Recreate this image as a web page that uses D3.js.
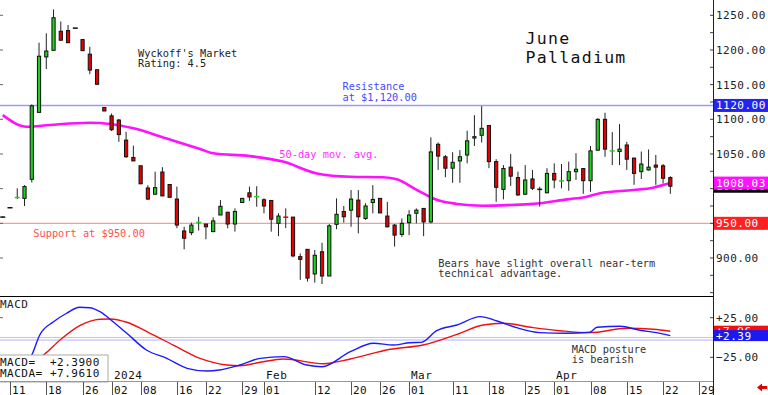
<!DOCTYPE html>
<html><head><meta charset="utf-8">
<script src="https://cdn.jsdelivr.net/npm/d3@7"></script>
<style>body{margin:0;background:#fff}svg{display:block}text{font-family:"DejaVu Sans Mono",monospace}</style>
</head><body><svg id="c" width="768" height="395"></svg>
<script>
// ---- data ----
const dates = ("2023-12-08 2023-12-11 2023-12-12 2023-12-13 2023-12-14 2023-12-15 2023-12-18 2023-12-19 2023-12-20 2023-12-21 2023-12-22 2023-12-26 2023-12-27 2023-12-28 2023-12-29 " +
 "2024-01-02 2024-01-03 2024-01-04 2024-01-05 2024-01-08 2024-01-09 2024-01-10 2024-01-11 2024-01-12 2024-01-16 2024-01-17 2024-01-18 2024-01-19 2024-01-22 2024-01-23 2024-01-24 2024-01-25 2024-01-26 2024-01-29 2024-01-30 2024-01-31 " +
 "2024-02-01 2024-02-02 2024-02-05 2024-02-06 2024-02-07 2024-02-08 2024-02-09 2024-02-12 2024-02-13 2024-02-14 2024-02-15 2024-02-16 2024-02-20 2024-02-21 2024-02-22 2024-02-23 2024-02-26 2024-02-27 2024-02-28 2024-02-29 " +
 "2024-03-01 2024-03-04 2024-03-05 2024-03-06 2024-03-07 2024-03-08 2024-03-11 2024-03-12 2024-03-13 2024-03-14 2024-03-15 2024-03-18 2024-03-19 2024-03-20 2024-03-21 2024-03-22 2024-03-25 2024-03-26 2024-03-27 2024-03-28 " +
 "2024-04-01 2024-04-02 2024-04-03 2024-04-04 2024-04-05 2024-04-08 2024-04-09 2024-04-10 2024-04-11 2024-04-12 2024-04-15 2024-04-16 2024-04-17 2024-04-18 2024-04-19 2024-04-22 2024-04-23").split(" ");
const open = [959,972.5,987,986,1013.5,1110,1190,1199.5,1227,1228,
 1231.5,1215,1194,1171.5,1117,1105,1099,1070,1045,1033,
 1001,992,1024,1006,985,939,936.5,951,949,938,
 962,966,949,980,994,988.3,984,983,950,959,
 959,902,912.5,877,909,874,948.5,967,969,983.5,
 957,980,986,960.5,947.5,934,951,964.5,971.5,952,
 1064,1046,1029.5,1040,1048.5,1073,1077,1091,1039,999,
 1031,1016,992,1014,999,994,1022,1011,1011.5,1024.5,
 1029,1011.5,1055.5,1100,1054.2,1053.5,1063,1044,1024.5,1027,
 1034,1033,1016];
const high = [960,973,1000.5,1005,1121.5,1210.5,1224,1258.5,1241,1236,
 1232,1215,1204.5,1171.5,1117.5,1108.5,1100.5,1082,1062,1033,
 1005,1024.5,1031,1006.5,1003,945,951,959.5,949,958.5,
 983.5,966.5,971.5,986.5,1003,1003.5,986,983,964.5,971.5,
 959,906.5,912.5,911.5,922,949,986,975,998,998,
 979,1005,986,981,949,957,969,971.5,971.5,1074,
 1066.5,1048.5,1052.5,1055.5,1083.5,1106,1119,1091,1042.5,1034,
 1050,1024.5,1034,1027,1002.8,1029.5,1036.5,1035.5,1039,1051,
 1029.5,1061.5,1101.5,1109.5,1081.5,1093,1067.5,1045,1053.5,1056.5,
 1048.5,1035.5,1018];
const low = [958,972,985,975,1009,1110,1172.5,1199.5,1214,1210.5,
 1231,1199,1165,1150.5,1112,1083,1067.5,1044.5,1040,1006.5,
 983.5,992,989.5,987.5,943,912.5,933,939.5,927,938,
 962,943,938,979.5,982.5,974,964.5,938,931.5,943,
 901,868.5,866,864.5,862.5,874,941.5,951,945,935.5,
 955,964.5,965,944,916.5,930.5,933,950,931.5,950,
 1027,1016.5,1008.5,1008.5,1036.5,1061.5,1066.5,1029.5,981,984.5,
 1004,989.5,991,998,974,993.5,1000.5,1000.5,997,1012.5,
 992.5,995.5,1054.5,1046,1034,1034,1027,1005.5,1014,1026,
 1005.5,1007.5,992.5];
const close = [959,972.5,987.5,1003,1119.5,1191,1198.5,1246.5,1214,1210.5,
 1231.5,1199,1171,1150.5,1112,1085,1078,1046,1040,1007,
 985,1001.5,989.5,987.5,947.5,928.5,947.5,951.5,945,953.5,
 974.5,949,967,986,988,988.6,975,956,960.5,958.7,
 903,898,871,904,874,946.5,963,959.5,985,959.5,
 975,984.5,965,945,933,950,962,969,952,1053,
 1047,1029.5,1038,1046,1069,1075,1087,1039,1002,1029,
 1018,991,1012.5,1000.5,999,1022,1012.5,1011.3,1024.5,1028,
 1011.5,1054.5,1100,1057,1054.5,1057,1042.5,1022,1035.5,1031,
 1031,1015,1003.5];
// 50-day moving average, read at sample positions (day index)
const maIdx = [0,3.3,6.5,12,14.8,18,22.6,27.2,29,34,38.6,43.3,47.9,52.4,54.3,57.1,59.9,62.6,66.2,69.9,73.1,77.8,80.5,82.3,86.9,89.6,92];
const maVal = [1106,1089.3,1091.8,1095,1093.2,1087,1072.3,1057.2,1051,1047,1039,1022,1017.2,1016.4,1013.5,998,983.6,978,975.4,976.4,978,984.6,988.4,993.3,998,1001.4,1008.03];
// MACD (blue) and MACDA signal (red)
const macdIdx = [0,3,4,5.1,7,8.8,10.6,12,13.4,15.2,17.1,19.8,22.6,25.4,28.1,29.9,32.7,35.5,38.7,41.9,44,47.9,51.1,53.8,56.1,57.7,59.8,62.6,65.8,68.1,70.8,74,77.7,80.9,81.9,85.1,87.8,90.1,92];
const macdVal = [-38,-36,-22.1,3.2,19.9,30.6,38.1,37.6,32.6,19.9,5.3,-15.8,-26.3,-38.9,-42.3,-41,-34.7,-26.3,-24.2,-34.7,-36.9,-17.9,-7.3,-9.5,-6.6,-6.1,8.6,15.8,26.3,20.8,12.4,6.1,5.3,6.6,12.9,14.1,9.1,6.1,2.39];
const sigIdx = [0,4,5.6,7.9,10.6,13.4,14.8,17.1,20.3,23.5,27.2,30.9,32.7,35.5,38.7,44.2,47.9,53.4,57.9,62.6,66.2,69,73.1,76.8,80.9,86,89.7,92];
const sigVal = [-37,-30,-22.1,-3.2,14.9,23,23.4,19.2,5.3,-9.5,-26.3,-34.7,-35.6,-31.3,-27.1,-33.1,-27.1,-14.9,-9.5,4,15.8,17.9,12.4,8.6,6.1,11.6,10.4,7.961];
const resistance = 1120, support = 950;
const priceLabels = [1250,1200,1150,1100,1050,900];
const macdLabels = [25,-25];
const macdRef = [0,-3.2];
const tickDates = ["2023-12-11","2023-12-18","2023-12-26","2024-01-02","2024-01-08","2024-01-16","2024-01-22","2024-01-29","2024-02-01","2024-02-12","2024-02-20","2024-02-26","2024-03-01","2024-03-11","2024-03-18","2024-03-25","2024-04-01","2024-04-08","2024-04-15","2024-04-22","2024-04-29"];
const futureDates = ["2024-04-24","2024-04-25","2024-04-26","2024-04-29","2024-04-30"];
const monthDates = ["2024-01-02","2024-02-01","2024-03-01","2024-04-01"];
const monthLabels = ["2024","Feb","Mar","Apr"];

// ---- scales ----
const allDates = dates.concat(futureDates);
const idx = d => allDates.indexOf(d);
const R = 713;
const x = d3.scaleLinear().domain([-0.378, 97.88]).range([0, R]);
const y = d3.scaleLinear().domain([845.2, 1272.07]).range([296, 0]);
const ym = d3.scaleLinear().domain([-54.9, 51.1]).range([381, 297]);
const svg = d3.select("#c");
const GREEN = "#1fd01f", RED = "#e80000";

// reference lines
svg.append("line").attr("x1",0).attr("x2",R).attr("y1",y(resistance)).attr("y2",y(resistance)).attr("stroke","#9a9aff").attr("stroke-width",1.5);
svg.append("line").attr("x1",0).attr("x2",R).attr("y1",y(support)).attr("y2",y(support)).attr("stroke","#ff9a9a").attr("stroke-width",1.2);

// moving average
svg.append("path").datum(maIdx.map((d,i)=>[d,maVal[i]]))
  .attr("d", d3.line().x(d=>x(d[0])).y(d=>y(d[1])).curve(d3.curveMonotoneX))
  .attr("fill","none").attr("stroke","#ff10ff").attr("stroke-width",2.6);

// candles
const n = close.length;
const cg = svg.append("g").selectAll("g").data(d3.range(n)).join("g");
cg.append("line").attr("x1",i=>x(i)).attr("x2",i=>x(i)).attr("y1",i=>y(high[i])).attr("y2",i=>y(low[i])).attr("stroke","#222").attr("stroke-width",1);
cg.each(function(i){
  const g = d3.select(this);
  const top = y(Math.max(open[i],close[i])), bot = y(Math.min(open[i],close[i]));
  if (bot - top < 1.2) {
    const col = close[i] > open[i] ? GREEN : close[i] < open[i] ? RED : "#111";
    g.append("line").attr("x1",x(i)-2.5).attr("x2",x(i)+2.5).attr("y1",(top+bot)/2).attr("y2",(top+bot)/2).attr("stroke",col).attr("stroke-width",1.5);
  } else {
    g.append("rect").attr("x",x(i)-1.6).attr("width",3.2).attr("y",top).attr("height",bot-top)
      .attr("fill", close[i] > open[i] ? GREEN : RED).attr("stroke","#111").attr("stroke-width",1);
  }
});

// annotations
function txt(s, tx, ty, col, size, ls) {
  return svg.append("text").attr("x",tx).attr("y",ty).attr("fill",col).attr("font-size",size||10.3)
    .attr("letter-spacing",ls||0).text(s);
}
txt("Wyckoff's Market",138,56.5,"#222");
txt("Rating: 4.5",138,67,"#222");
txt("June",525.5,44,"#111",16.5,1.3);
txt("Palladium",525.5,63,"#111",16.5,1.3);
txt("Resistance",342.5,90.3,"#4a4aff");
txt("at $1,120.00",342.5,100.7,"#4a4aff");
txt("50-day mov. avg.",279.3,158.3,"#ff30ff");
txt("Support at $950.00",33.3,236.7,"#ff5050");
txt("Bears have slight overall near-term",438.3,266.7,"#333");
txt("technical advantage.",438.3,276.7,"#333");

// price axis
svg.append("line").attr("x1",R+0.5).attr("x2",R+0.5).attr("y1",0).attr("y2",395).attr("stroke","#222");
d3.range(850,1275,25).forEach(v=>{
  svg.append("line").attr("x1",R-3).attr("x2",R).attr("y1",y(v)).attr("y2",y(v)).attr("stroke","#444");
});
d3.range(900,1275,50).forEach(v=>{
  svg.append("line").attr("x1",0).attr("x2",3).attr("y1",y(v)).attr("y2",y(v)).attr("stroke","#666");
});
priceLabels.forEach(v=>{
  txt(d3.format(".2f")(v), 716, y(v)+4, "#222", 11, 0.5);
});
function box(v, yy, bg, label) {
  svg.append("rect").attr("x",R+1).attr("width",768-R-1).attr("y",yy-6.5).attr("height",13).attr("fill",bg);
  txt(label, 716, yy+4, "#fff", 11, 0.5);
}
box(resistance, y(resistance), "#2424f0", d3.format(".2f")(resistance));
box(close[n-1], y(close[n-1]), "#000", d3.format(".2f")(close[n-1]));
box(maVal[maVal.length-1], y(maVal[maVal.length-1]), "#ff10ff", d3.format(".2f")(maVal[maVal.length-1]));
box(support, y(support), "#ff2020", d3.format(".2f")(support));

// separator
svg.append("line").attr("x1",0).attr("x2",R).attr("y1",296.5).attr("y2",296.5).attr("stroke","#000").attr("stroke-width",1.2);

// MACD panel
macdRef.forEach((v,k)=>{
  svg.append("line").attr("x1",0).attr("x2",R).attr("y1",ym(v)).attr("y2",ym(v)).attr("stroke",k===0?"#ffb0b0":"#b0b0ff").attr("stroke-width",1);
});
svg.append("path").datum(sigIdx.map((d,i)=>[d,sigVal[i]]))
  .attr("d", d3.line().x(d=>x(d[0])).y(d=>ym(d[1])).curve(d3.curveMonotoneX))
  .attr("fill","none").attr("stroke","#f01010").attr("stroke-width",1.4);
svg.append("path").datum(macdIdx.map((d,i)=>[d,macdVal[i]]))
  .attr("d", d3.line().x(d=>x(d[0])).y(d=>ym(d[1])).curve(d3.curveMonotoneX))
  .attr("fill","none").attr("stroke","#1a1aff").attr("stroke-width",1.4);
txt("MACD",0,308,"#222",11,0.5);
macdLabels.forEach(v=>{
  svg.append("line").attr("x1",R-3).attr("x2",R).attr("y1",ym(v)).attr("y2",ym(v)).attr("stroke","#444");
  svg.append("line").attr("x1",0).attr("x2",3).attr("y1",ym(v)).attr("y2",ym(v)).attr("stroke","#666");
  txt((v>0?"+":"")+d3.format(".2f")(v), 716, ym(v)+4, "#222", 11, 0.5);
});
function mbox(v, bg) {
  const yy = ym(v);
  svg.append("rect").attr("x",R+1).attr("width",768-R-1).attr("y",yy-5.5).attr("height",11).attr("fill",bg);
  txt("+"+d3.format(".2f")(v), 716, yy+4, "#fff", 11, 0.5);
}
mbox(sigVal[sigVal.length-1], "#f01010");
mbox(macdVal[macdVal.length-1], "#1a1af0");
txt("MACD posture",571.7,353.3,"#333");
txt("is bearish",571.7,363.3,"#333");

// info box
svg.append("rect").attr("x",-1).attr("y",355).attr("width",109).attr("height",27).attr("fill","#fff").attr("stroke","#aaa");
txt("MACD=",0,365.7,"#111",11,0.5);
txt("+"+d3.format(".4f")(macdVal[macdVal.length-1]),50,365.7,"#111",11,0.5);
txt("MACDA=",0,376.7,"#111",11,0.5);
txt("+"+d3.format(".4f")(sigVal[sigVal.length-1]),50,376.7,"#111",11,0.5);

// date axis
svg.append("line").attr("x1",0).attr("x2",R).attr("y1",381.5).attr("y2",381.5).attr("stroke","#999");
tickDates.forEach(d=>{
  const xx = Math.round(x(idx(d)))+0.5;
  svg.append("line").attr("x1",xx).attr("x2",xx).attr("y1",382).attr("y2",395).attr("stroke","#555");
  txt(d.slice(8), xx+1.5, 393.5, "#111", 11, 0.5);
});
monthDates.forEach((d,k)=>{
  txt(monthLabels[k], Math.round(x(idx(d)))+2, 378.5, "#111", 11, 0.5);
});
// red arrow
svg.append("path").attr("d","M757,387.5 L762,383.5 L762,386 L767,386 L767,389 L762,389 L762,391.5 Z").attr("fill","#e00000");
</script></body></html>
